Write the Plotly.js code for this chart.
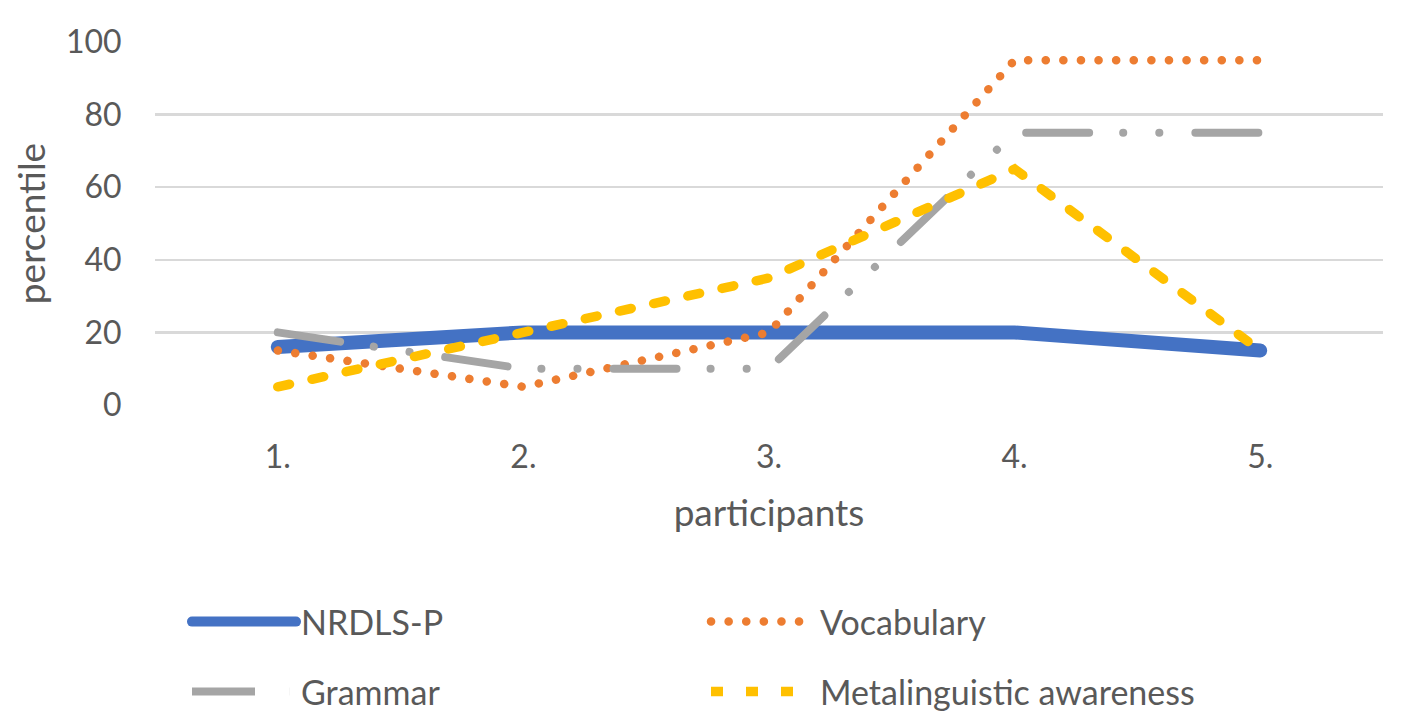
<!DOCTYPE html>
<html>
<head>
<meta charset="utf-8">
<script src="https://cdn.plot.ly/plotly-3.0.1.min.js"></script>
<style>
  html, body { margin: 0; padding: 0; background: #fff; }
  #chart { width: 1417px; height: 719px; }
</style>
</head>
<body>
<div id="chart"></div>
<script>
// participants on the x axis, percentile scores per test
const participants = ['1.', '2.', '3.', '4.', '5.'];
const nrdls = [16, 20, 20, 20, 15];
const vocabulary = [15, 5, 20, 95, 95];
const grammar = [20, 10, 10, 75, 75];
const metalinguistic = [5, 20, 35, 65, 15];
const yTicks = [0, 20, 40, 60, 80, 100];

const FONT = 'Lato, "Open Sans", sans-serif';
const GREY_TEXT = '#595959';

function line(name, y, color, width, dash, legend) {
    return {
        x: participants,
        y: y,
        name: name,
        type: 'scatter',
        mode: 'lines',
        legend: legend,
        line: { color: color, width: width, dash: dash },
        hoverinfo: 'skip'
    };
}

const traces = [
    line('NRDLS-P', nrdls, '#4472c4', 14, 'solid', 'legend'),
    line('Vocabulary', vocabulary, '#ed7d31', 8.5, '0.1px,17.5px', 'legend'),
    line('Grammar', grammar, '#a5a5a5', 8, '63px,34px,0.1px,36px,0.1px,36px', 'legend2'),
    line('Metalinguistic awareness', metalinguistic, '#ffc000', 9.5, '12px,23px', 'legend2')
];

const legendBase = {
    orientation: 'h',
    xref: 'container',
    yref: 'container',
    x: 187 / 1417,
    xanchor: 'left',
    yanchor: 'middle',
    entrywidth: 400,
    entrywidthmode: 'pixels',
    itemwidth: 104,
    font: { family: FONT, size: 34, color: GREY_TEXT },
    bgcolor: 'rgba(0,0,0,0)'
};

const layout = {
    width: 1417,
    height: 719,
    margin: { l: 155, r: 34, t: 42, b: 314 },
    paper_bgcolor: '#fff',
    plot_bgcolor: '#fff',
    font: { family: FONT, color: GREY_TEXT },
    showlegend: true,
    legend: Object.assign({}, legendBase, { y: 1 - 622 / 719 }),
    legend2: Object.assign({}, legendBase, { y: 1 - 692 / 719 }),
    xaxis: {
        type: 'category',
        range: [-0.5, 4.5],
        showgrid: false,
        zeroline: false,
        showline: false,
        ticks: 'outside',
        ticklen: 24,
        tickcolor: 'rgba(0,0,0,0)',
        tickfont: { family: FONT, size: 32, color: GREY_TEXT },
        title: { text: 'participants', font: { family: FONT, size: 37, color: GREY_TEXT }, standoff: 25 }
    },
    yaxis: {
        range: [0, 100],
        tickvals: yTicks,
        showgrid: true,
        gridcolor: '#d9d9d9',
        gridwidth: 2.5,
        zeroline: false,
        showline: false,
        ticks: 'outside',
        ticklen: 26,
        tickcolor: 'rgba(0,0,0,0)',
        tickfont: { family: FONT, size: 32, color: GREY_TEXT },
        title: { text: 'percentile', font: { family: FONT, size: 37, color: GREY_TEXT }, standoff: 8 }
    }
};

Plotly.newPlot('chart', traces, layout, { staticPlot: true }).then(gd => {
    // Excel-style rounded dashes/dots
    gd.querySelectorAll('.scatterlayer .js-line, .legend .legendlines path').forEach(p => {
        p.style.strokeLinecap = 'round';
    });
});
</script>
</body>
</html>
